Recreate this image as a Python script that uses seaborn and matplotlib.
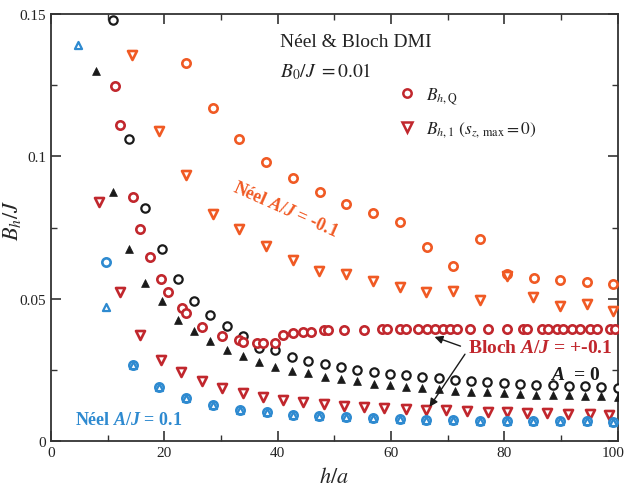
import matplotlib
matplotlib.use("Agg")
import matplotlib.pyplot as plt
import matplotlib.transforms as mtransforms
from matplotlib.lines import Line2D
from matplotlib.ticker import MultipleLocator, FixedLocator, FixedFormatter
import seaborn as sns

# ---------------- data ----------------
# Neel A/J = -0.1 (orange)
neg_q_x = [23.8, 28.6, 33.2, 37.9, 42.7, 47.4, 52.0, 56.8, 61.6, 66.3, 70.9, 75.7, 80.4, 85.2, 89.8, 94.5, 99.1]
neg_q_y = [0.1328, 0.117, 0.106, 0.098, 0.0924, 0.0875, 0.0832, 0.080, 0.077, 0.068, 0.0615, 0.071, 0.0587, 0.0573, 0.0566, 0.0558, 0.055]
neg_1_x = [14.3, 19.0, 23.8, 28.6, 33.2, 37.9, 42.7, 47.3, 52.0, 56.8, 61.6, 66.1, 70.9, 75.7, 80.4, 85.0, 89.8, 94.5, 99.1]
neg_1_y = [0.1356, 0.1089, 0.0934, 0.0797, 0.0745, 0.0685, 0.0636, 0.0597, 0.0587, 0.0562, 0.054, 0.0523, 0.0527, 0.0495, 0.058, 0.0506, 0.0474, 0.0481, 0.0457]

# A = 0 (black)
zero_q_x = [10.9, 13.75, 16.6, 19.5, 22.4, 25.25, 28.1, 31.0, 33.9, 36.75, 39.6, 42.5, 45.4, 48.25, 51.1, 54.0,
            56.9, 59.75, 62.6, 65.5, 68.4, 71.3, 74.1, 77.0, 79.9, 82.75, 85.6, 88.5, 91.4, 94.25, 97.1, 100.0]
zero_q_y = [0.148, 0.106, 0.0818, 0.0674, 0.0569, 0.0492, 0.0443, 0.0404, 0.0369, 0.0327, 0.032, 0.0295, 0.0281, 0.027, 0.026, 0.0249,
            0.0242, 0.0235, 0.0232, 0.0225, 0.0221, 0.0214, 0.0211, 0.0207, 0.0204, 0.020, 0.0197, 0.0197, 0.0193, 0.0193, 0.019, 0.0186]
zero_1_x = [8.0, 10.9, 13.75, 16.6, 19.5, 22.4, 25.25, 28.1, 31.0, 33.9, 36.75, 39.6, 42.5, 45.4, 48.25, 51.1, 54.0,
            56.9, 59.75, 62.6, 65.5, 68.4, 71.3, 74.1, 77.0, 79.9, 82.75, 85.6, 88.5, 91.4, 94.25, 97.1, 100.0]
zero_1_y = [0.130, 0.0875, 0.0674, 0.0555, 0.0492, 0.0425, 0.0386, 0.0351, 0.032, 0.0299, 0.0277, 0.026, 0.0246, 0.0239, 0.0225, 0.0218, 0.0211,
            0.020, 0.0197, 0.019, 0.0186, 0.0183, 0.0176, 0.0172, 0.0172, 0.0169, 0.0165, 0.0162, 0.0162, 0.016, 0.0158, 0.0158, 0.0155]

# Bloch A/J = +-0.1 (dark red)
bloch_q_x = [11.3, 12.2, 14.5, 15.7, 17.5, 19.4, 20.6, 23.1, 23.8, 26.6, 30.2, 33.2, 33.9, 36.3, 37.4, 39.5, 40.9, 42.7, 44.4, 45.9,
             48.1, 48.9, 51.7, 55.2, 58.4, 59.3, 61.6, 62.6, 64.7, 66.3, 67.7, 69.1, 70.4, 71.6, 73.9, 77.1, 80.4, 83.2, 84.0,
             86.6, 87.7, 89.2, 90.3, 91.9, 93.3, 95.1, 96.3, 98.6, 99.5]
bloch_q_y = [0.1247, 0.111, 0.0857, 0.0745, 0.0646, 0.0569, 0.0523, 0.0467, 0.045, 0.040, 0.0369, 0.0355, 0.0348, 0.0344, 0.0344, 0.0344, 0.0372, 0.0379, 0.0383, 0.0383,
             0.039, 0.039, 0.039, 0.039, 0.0393, 0.0393, 0.0393, 0.0393, 0.0393, 0.0393, 0.0393, 0.0393, 0.0393, 0.0393, 0.0393, 0.0393, 0.0393, 0.0393, 0.0393,
             0.0393, 0.0393, 0.0393, 0.0393, 0.0393, 0.0393, 0.0393, 0.0393, 0.0393, 0.0393]
bloch_1_x = [8.5, 12.2, 15.7, 19.4, 22.9, 26.6, 30.2, 33.9, 37.4, 40.9, 44.4, 48.1, 51.7, 55.2, 58.7, 62.6, 66.1, 69.7, 73.4, 77.1, 80.4, 84.0, 87.5, 91.2, 95.1, 98.4]
bloch_1_y = [0.084, 0.0523, 0.0372, 0.0285, 0.0242, 0.021, 0.0186, 0.0169, 0.0155, 0.0144, 0.0137, 0.013, 0.0123, 0.0119, 0.0116, 0.0112, 0.0109, 0.0109, 0.0105, 0.0102, 0.0102, 0.0098, 0.0098, 0.0095, 0.0095, 0.0091]

# Neel A/J = 0.1 (blue)
pos_q_x = [9.7, 14.5, 19.0, 23.8, 28.6, 33.3, 38.1, 42.7, 47.3, 52.0, 56.8, 61.6, 66.1, 70.9, 75.7, 80.4, 85.0, 89.8, 94.5, 99.1]
pos_q_y = [0.0629, 0.0267, 0.019, 0.0151, 0.0126, 0.0109, 0.0102, 0.0091, 0.0088, 0.0084, 0.0081, 0.0077, 0.0074, 0.0074, 0.007, 0.007, 0.007, 0.007, 0.007, 0.0067]
pos_1_x = [4.8, 9.7, 14.5, 19.0, 23.8, 28.6, 33.3, 38.1, 42.7, 47.3, 52.0, 56.8, 61.6, 66.1, 70.9, 75.7, 80.4, 85.0, 89.8, 94.5, 99.1]
pos_1_y = [0.139, 0.047, 0.0267, 0.019, 0.0151, 0.0126, 0.0109, 0.0102, 0.0091, 0.0088, 0.0084, 0.0081, 0.0077, 0.0074, 0.0074, 0.007, 0.007, 0.007, 0.007, 0.007, 0.0067]

x_ticks = [0, 20, 40, 60, 80, 100]
x_tick_labels = ["0", "20", "40", "60", "80", "100"]
y_ticks = [0, 0.05, 0.1, 0.15]
y_tick_labels = ["0", "0.05", "0.1", "0.15"]

# ---------------- style ----------------
sns.set_style("ticks")
plt.rcParams["font.family"] = ["Liberation Serif", "DejaVu Serif"]
plt.rcParams["mathtext.fontset"] = "stix"
plt.rcParams["mathtext.it"] = "Liberation Serif:italic:bold"
plt.rcParams["mathtext.rm"] = "Liberation Serif:bold"
plt.rcParams["mathtext.bf"] = "Liberation Serif:bold"

ORANGE = "#f05a24"
RED = "#c1272d"
BLUE = "#2e8ad0"
BLACK = "#1a1a1a"

fig = plt.figure(figsize=(6.26, 4.89), dpi=100)
ax = fig.add_axes([0.0815, 0.0961, 0.9055, 0.8732])

def open_pts(x, y, marker, color, s=36, lw=1.9, z=3):
    sns.scatterplot(x=x, y=y, ax=ax, marker=marker, s=s, color="white",
                    edgecolor=color, linewidth=lw, zorder=z, legend=False)

open_pts(neg_q_x, neg_q_y, "o", ORANGE)
open_pts(neg_1_x, neg_1_y, "v", ORANGE, s=42)
open_pts(zero_q_x, zero_q_y, "o", BLACK, lw=1.6)
sns.scatterplot(x=zero_1_x, y=zero_1_y, ax=ax, marker="^", s=32, color=BLACK,
                edgecolor=BLACK, linewidth=0.5, zorder=3, legend=False)
open_pts(bloch_q_x, bloch_q_y, "o", RED)
open_pts(bloch_1_x, bloch_1_y, "v", RED, s=42)
open_pts(pos_q_x, pos_q_y, "o", BLUE)
open_pts(pos_1_x, pos_1_y, "^", BLUE, s=26, lw=1.6, z=4)

ax.set_xlim(0, 100)
ax.set_ylim(0, 0.15)
ax.xaxis.set_major_locator(FixedLocator(x_ticks))
ax.xaxis.set_major_formatter(FixedFormatter(x_tick_labels))
ax.xaxis.set_minor_locator(MultipleLocator(10))
ax.yaxis.set_major_locator(FixedLocator(y_ticks))
ax.yaxis.set_major_formatter(FixedFormatter(y_tick_labels))
ax.yaxis.set_minor_locator(MultipleLocator(0.025))
ax.tick_params(which="both", direction="in", top=True, right=True, labelsize=11, colors="#333333", labelcolor="#222222")
ax.tick_params(which="major", length=7, width=1.2)
ax.tick_params(which="minor", length=4, width=1.0)
for sp in ax.spines.values():
    sp.set_color("#333333")
    sp.set_linewidth(1.3)

# keep the last x tick label ("100") inside the canvas
last_lbl = ax.get_xticklabels()[-1]
last_lbl.set_transform(last_lbl.get_transform() +
                       mtransforms.ScaledTranslation(-5 / 100, 0, fig.dpi_scale_trans))

ax.set_xlabel(r"$h/a$", fontsize=16, math_fontfamily="stix")
ax.set_ylabel(r"$B_h/J$", fontsize=16, math_fontfamily="stix")
ax.yaxis.set_label_coords(-0.05, 0.52)
ax.xaxis.set_label_coords(0.5, -0.062)

# header texts
ax.text(40.4, 0.1405, "Néel & Bloch DMI", fontsize=14, va="center", ha="left", color="#222222")
ax.text(40.4, 0.1300, r"$B_0/J\ = 0.01$", fontsize=14, va="center", ha="left", color="#222222",
        math_fontfamily="stix")

# legend
handles = [
    Line2D([], [], linestyle="none", marker="o", markersize=6, markerfacecolor="white",
           markeredgecolor=RED, markeredgewidth=1.8),
    Line2D([], [], linestyle="none", marker="v", markersize=6.5, markerfacecolor="white",
           markeredgecolor=RED, markeredgewidth=1.8),
]
labels = [r"$B_{h,\mathrm{Q}}$", r"$B_{h,1}\ (s_{z,\,\mathrm{max}}=0)$"]
leg = ax.legend(handles, labels, loc="center left", bbox_to_anchor=(0.615, 0.77), frameon=False,
                handlelength=0.8, handletextpad=0.7, labelspacing=0.75, fontsize=12.5,
                borderaxespad=0, borderpad=0)
for t in leg.get_texts():
    t.set_math_fontfamily("stix")
    t.set_color("#222222")

# annotations (bold with bold-italic A/J)
ax.text(41.4, 0.0815, r"Néel $A/J$ = -0.1", fontsize=13, fontweight="bold", color=ORANGE,
        rotation=-24, ha="center", va="center", rotation_mode="anchor", math_fontfamily="custom")
ax.text(73.5, 0.0330, r"Bloch $A/J$ = +-0.1", fontsize=14, fontweight="bold", color=RED,
        ha="left", va="center", math_fontfamily="custom")
ax.text(88.0, 0.0235, r"$A$  = 0", fontsize=14, fontweight="bold", color=BLACK,
        ha="left", va="center", math_fontfamily="custom")
ax.text(4.2, 0.0077, r"Néel $A/J$ = 0.1", fontsize=13, fontweight="bold", color=BLUE,
        ha="left", va="center", math_fontfamily="custom")

ax.annotate("", xy=(67.2, 0.0369), xytext=(72.7, 0.0330),
            arrowprops=dict(arrowstyle="-|>", color=BLACK, lw=1.0, mutation_scale=12))
ax.annotate("", xy=(66.5, 0.0112), xytext=(73.3, 0.0313),
            arrowprops=dict(arrowstyle="-|>", color=BLACK, lw=1.0, mutation_scale=12))

fig.savefig("out.png", dpi=100)
